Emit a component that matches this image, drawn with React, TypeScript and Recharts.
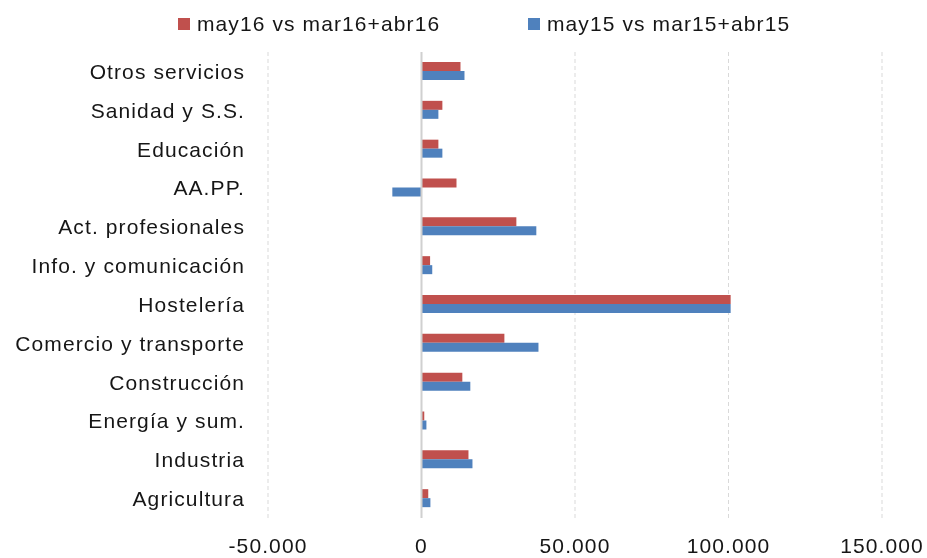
import {
  BarChart,
  Bar,
  XAxis,
  YAxis,
  CartesianGrid,
  ReferenceLine,
  Legend,
} from "recharts";

const categories = [
  "Otros servicios",
  "Sanidad y S.S.",
  "Educación",
  "AA.PP.",
  "Act. profesionales",
  "Info. y comunicación",
  "Hostelería",
  "Comercio y transporte",
  "Construcción",
  "Energía y sum.",
  "Industria",
  "Agricultura",
];

const may16 = [12700, 6800, 5500, 11400, 30900, 2800, 100700, 27000, 13300, 900, 15300, 2200];
const may15 = [14000, 5500, 6800, -9500, 37400, 3500, 100700, 38100, 15900, 1600, 16600, 2900];

const xTicks = [-50000, 0, 50000, 100000, 150000];

const seriesNames = ["may16 vs mar16+abr16", "may15 vs mar15+abr15"];
const RED = "#c0504d";
const BLUE = "#4f81bd";
const seriesColors = [RED, BLUE];

const data = categories.map((name, i) => ({
  name,
  a: may16[i],
  b: may15[i],
}));

const font = "'Liberation Sans', Arial, sans-serif";
const textStyle = { fill: "#161616", fontSize: 21, fontFamily: font, letterSpacing: 1.1 };

function fmt(v: number) {
  const s = Math.abs(v).toString().replace(/\B(?=(\d{3})+(?!\d))/g, ".");
  return v < 0 ? "-" + s : s;
}

const legendLeft = [178, 528];

// legend drawn in fixed series order
function LegendBox() {
  return (
    <div style={{ position: "relative", height: 52, width: 860 }}>
      {seriesNames.map((name, i) => (
        <div
          key={name}
          style={{
            position: "absolute",
            left: legendLeft[i],
            top: 13,
            height: 22,
            display: "flex",
            alignItems: "center",
            fontFamily: font,
            fontSize: 21,
            letterSpacing: 1.1,
            color: "#161616",
            whiteSpace: "nowrap",
          }}
        >
          <span
            style={{ width: 12, height: 12, background: seriesColors[i], marginRight: 7, display: "inline-block" }}
          />
          {name}
        </div>
      ))}
    </div>
  );
}

export default function App() {
  return (
    <div style={{ position: "fixed", left: 0, top: 0, width: 927, height: 558, overflow: "hidden" }}>
      <BarChart
        width={927}
        height={558}
        data={data}
        layout="vertical"
        margin={{ top: 0, right: 45, left: 0, bottom: 0 }}
        barGap={0}
      >
        <Legend verticalAlign="top" content={<LegendBox />} />
        <CartesianGrid horizontal={false} stroke="#d9d9d9" strokeDasharray="4 3" />
        <XAxis
          type="number"
          domain={[-50000, 150000]}
          ticks={xTicks}
          tickFormatter={fmt}
          axisLine={false}
          tickLine={false}
          tickSize={0}
          tickMargin={20}
          height={40}
          tick={textStyle}
        />
        <YAxis
          type="category"
          dataKey="name"
          width={268}
          axisLine={false}
          tickLine={false}
          tickSize={0}
          tickMargin={23}
          interval={0}
          tick={textStyle}
        />
        <ReferenceLine x={0} stroke="#d0d0d0" strokeWidth={2} />
        <Bar dataKey="a" name={seriesNames[0]} fill={RED} barSize={9} isAnimationActive={false} />
        <Bar dataKey="b" name={seriesNames[1]} fill={BLUE} barSize={9} isAnimationActive={false} />
      </BarChart>
    </div>
  );
}
